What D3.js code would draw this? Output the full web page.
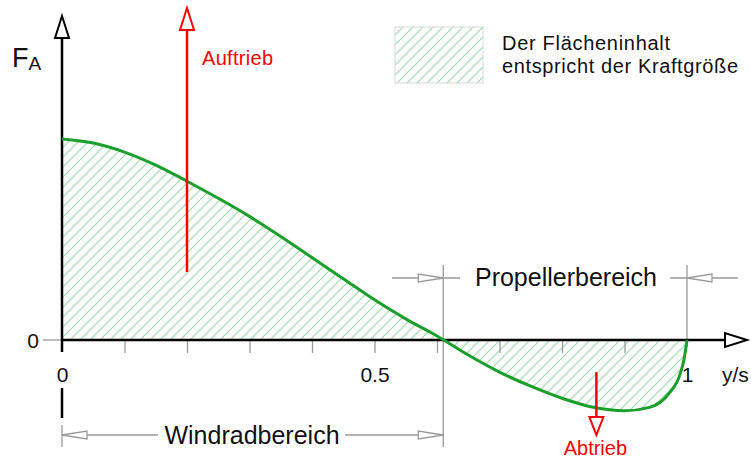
<!DOCTYPE html>
<html>
<head>
<meta charset="utf-8">
<script src="https://cdn.jsdelivr.net/npm/d3@7"></script>
<style>
  html, body { margin: 0; padding: 0; background: #fff; }
  svg text { font-family: "Liberation Sans", Arial, sans-serif; }
</style>
</head>
<body>
<svg id="chart" width="751" height="461"></svg>
<script>
// ---- data ----
const positions = [0, 0.05, 0.1, 0.15, 0.2, 0.25, 0.3, 0.35, 0.4, 0.45, 0.5, 0.55, 0.6,
                   0.65, 0.7, 0.75, 0.8, 0.85, 0.9, 0.94, 0.97, 0.99, 0.995, 1.0];
const forces = [1.0, 0.98, 0.935, 0.87, 0.79, 0.705, 0.615, 0.515, 0.41, 0.305, 0.20, 0.105, 0.02,
                -0.075, -0.16, -0.23, -0.29, -0.335, -0.352, -0.335, -0.27, -0.16, -0.10, 0];
const minorTicks = [0.1, 0.2, 0.3, 0.4, 0.5, 0.6, 0.7, 0.8, 0.9];
const tickLabels = [0, 0.5, 1];
const tickLabelText = ["0", "0.5", "1"];
const zeroCrossing = 0.61;
const auftriebX = 0.2, auftriebRange = [0.338, 1.652];
const abtriebX = 0.855, abtriebRange = [-0.16, -0.473];
const legendLines = ["Der Flächeninhalt", "entspricht der Kraftgröße"];

const svg = d3.select("#chart");
const x = d3.scaleLinear().domain([0, 1]).range([62, 687]);
const y = d3.scaleLinear().domain([0, 1]).range([340, 139]);
const data = positions.map((p, i) => ({ p, f: forces[i] }));

// hatch pattern
const defs = svg.append("defs");
const pat = defs.append("pattern").attr("id", "hatch")
  .attr("patternUnits", "userSpaceOnUse").attr("width", 10).attr("height", 10);
pat.append("path")
  .attr("d", "M-2.5,2.5 L2.5,-2.5 M0,10 L10,0 M7.5,12.5 L12.5,7.5")
  .attr("stroke", "#9fdbab").attr("stroke-width", 1.2);

const gray = "#9a9a9a";

// area
svg.append("path").datum(data)
  .attr("fill", "url(#hatch)")
  .attr("d", d3.area().x(d => x(d.p)).y0(y(0)).y1(d => y(d.f)).curve(d3.curveMonotoneX));

// gray y zero tick
svg.append("line").attr("x1", 43).attr("x2", x(0)).attr("y1", y(0)).attr("y2", y(0))
  .attr("stroke", gray).attr("stroke-width", 1.3);
svg.append("text").attr("x", 33).attr("y", 348).attr("text-anchor", "middle")
  .attr("font-size", 21).attr("fill", "#111").text("0");

// x minor ticks via axis
const tickAxis = svg.append("g").attr("transform", `translate(0,${y(0)})`)
  .call(d3.axisBottom(x).tickValues(minorTicks).tickSize(13).tickFormat(""));
tickAxis.select(".domain").remove();
tickAxis.selectAll(".tick line").attr("stroke", gray).attr("stroke-width", 1.3);

// x labels via axis
const labelAxis = svg.append("g").attr("transform", `translate(0,${y(0)})`)
  .call(d3.axisBottom(x).tickValues(tickLabels).tickSize(0).tickPadding(0)
    .tickFormat((d, i) => tickLabelText[i]));
labelAxis.select(".domain").remove();
labelAxis.selectAll(".tick text")
  .attr("font-size", 21).attr("fill", "#111")
  .attr("font-family", '"Liberation Sans", Arial, sans-serif')
  .attr("dy", null).attr("y", 42);
svg.append("text").attr("x", 722).attr("y", 382).attr("font-size", 21).attr("fill", "#111").text("y/s");

// dimension lines
function extLine(px, y1, y2) {
  svg.append("line").attr("x1", px).attr("x2", px).attr("y1", y1).attr("y2", y2)
    .attr("stroke", gray).attr("stroke-width", 1.3);
}
function hLine(x1, x2, yy) {
  svg.append("line").attr("x1", x1).attr("x2", x2).attr("y1", yy).attr("y2", yy)
    .attr("stroke", gray).attr("stroke-width", 1.3);
}
function dimArrow(tipX, yy, dir) { // dir: +1 points right, -1 points left
  const b = tipX - dir * 25;
  svg.append("path").attr("d", `M${tipX},${yy} L${b},${yy - 4} L${b},${yy + 4} Z`)
    .attr("fill", "#fff").attr("stroke", gray).attr("stroke-width", 1.3);
}
// Propellerbereich
const yP = 278;
extLine(x(zeroCrossing), 265, 447);
extLine(x(1), 265, 347);
hLine(392, 460, yP);
dimArrow(x(zeroCrossing), yP, +1);
hLine(670, 738, yP);
dimArrow(x(1), yP, -1);
svg.append("text").attr("x", 566).attr("y", 286).attr("text-anchor", "middle")
  .attr("font-size", 25).attr("fill", "#111").text("Propellerbereich");
// Windradbereich
const yW = 435;
extLine(x(0), 425, 447);
hLine(x(0), 158, yW);
hLine(345, x(zeroCrossing), yW);
dimArrow(x(0), yW, -1);
dimArrow(x(zeroCrossing), yW, +1);
svg.append("text").attr("x", 252).attr("y", 444).attr("text-anchor", "middle")
  .attr("font-size", 25).attr("fill", "#111").text("Windradbereich");

// axes lines
svg.append("line").attr("x1", x(0)).attr("x2", 725).attr("y1", y(0)).attr("y2", y(0))
  .attr("stroke", "#000").attr("stroke-width", 2.5);
svg.append("path").attr("d", `M747,${y(0)} L725,${y(0) - 7} L725,${y(0) + 7} Z`)
  .attr("fill", "#fff").attr("stroke", "#000").attr("stroke-width", 2);
svg.append("line").attr("x1", x(0)).attr("x2", x(0)).attr("y1", 38).attr("y2", 352)
  .attr("stroke", "#000").attr("stroke-width", 2.5);
svg.append("line").attr("x1", x(0)).attr("x2", x(0)).attr("y1", 388).attr("y2", 418)
  .attr("stroke", "#000").attr("stroke-width", 2.5);
svg.append("path").attr("d", `M${x(0)},16 L${x(0) - 7},38 L${x(0) + 7},38 Z`)
  .attr("fill", "#fff").attr("stroke", "#000").attr("stroke-width", 2);

// F_A label
const fa = svg.append("text").attr("x", 12).attr("y", 67).attr("fill", "#111");
fa.append("tspan").attr("font-size", 27).text("F");
fa.append("tspan").attr("font-size", 19).attr("dy", 3).text("A");

// curve
svg.append("path").datum(data)
  .attr("fill", "none").attr("stroke", "#1a9e2c").attr("stroke-width", 3)
  .attr("d", d3.line().x(d => x(d.p)).y(d => y(d.f)).curve(d3.curveMonotoneX));

// red arrows
const red = "#ff0000";
const ax = x(auftriebX);
svg.append("line").attr("x1", ax).attr("x2", ax)
  .attr("y1", y(auftriebRange[0])).attr("y2", y(auftriebRange[1]) + 20)
  .attr("stroke", red).attr("stroke-width", 2.5);
svg.append("path")
  .attr("d", `M${ax},${y(auftriebRange[1])} L${ax - 7},${y(auftriebRange[1]) + 22} L${ax + 7},${y(auftriebRange[1]) + 22} Z`)
  .attr("fill", "#fff").attr("stroke", red).attr("stroke-width", 2);
svg.append("text").attr("x", 202).attr("y", 65).attr("font-size", 20).attr("fill", red)
  .attr("textLength", 71).text("Auftrieb");

const bx = x(abtriebX);
svg.append("line").attr("x1", bx).attr("x2", bx)
  .attr("y1", y(abtriebRange[0])).attr("y2", y(abtriebRange[1]) - 16)
  .attr("stroke", red).attr("stroke-width", 2.5);
svg.append("path")
  .attr("d", `M${bx},${y(abtriebRange[1])} L${bx - 7},${y(abtriebRange[1]) - 18} L${bx + 7},${y(abtriebRange[1]) - 18} Z`)
  .attr("fill", "#fff").attr("stroke", red).attr("stroke-width", 2);
svg.append("text").attr("x", bx - 1).attr("y", 455).attr("text-anchor", "middle")
  .attr("font-size", 20).attr("fill", red).text("Abtrieb");

// legend
svg.append("rect").attr("x", 395).attr("y", 27).attr("width", 88).attr("height", 56)
  .attr("fill", "url(#hatch)").attr("stroke", "#d8d8d8").attr("stroke-width", 1);
const legendWidths = [168, 236];
legendLines.forEach((t, i) => {
  svg.append("text").attr("x", 502).attr("y", 50 + i * 23)
    .attr("font-size", 20).attr("fill", "#111")
    .attr("textLength", legendWidths[i]).text(t);
});
</script>
</body>
</html>
